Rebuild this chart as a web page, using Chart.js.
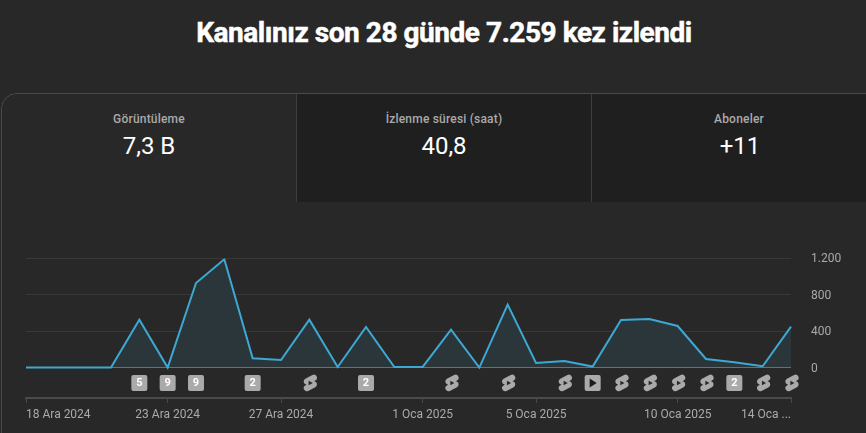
<!DOCTYPE html>
<html lang="tr">
<head>
<meta charset="utf-8">
<title>Kanal analizi</title>
<script src="https://cdn.jsdelivr.net/npm/chart.js@4"></script>
<style>
  html, body { margin: 0; padding: 0; width: 866px; height: 433px; overflow: hidden; background: #282828; font-family: Roboto, sans-serif; }
  h1 { position: absolute; left: 0; top: 14px; width: 888px; margin: 0; text-align: center; color: #fff; font-size: 28px; line-height: 38px; font-weight: 700; letter-spacing: -0.45px; -webkit-text-stroke: 0.5px #fff; }
  .panel { position: absolute; left: 1px; top: 93px; width: 880px; height: 400px; border: 1px solid #4a4a4a; border-top-left-radius: 16px; box-sizing: border-box; }
  .tab { position: absolute; top: 94px; height: 108px; text-align: center; background: #1f1f1f; box-sizing: border-box; }
  .tab.on { background: #282828; border-top-left-radius: 16px; }
  .tab .name { position: absolute; left: 0; right: 0; top: 17px; color: #aaa; font-size: 12px; line-height: 16px; font-weight: 500; letter-spacing: 0.2px; }
  .tab .val { position: absolute; left: 0; right: 0; top: 37px; color: #fff; font-size: 24px; line-height: 30px; }
  .sep { position: absolute; top: 94px; width: 1px; height: 108px; background: #3f3f3f; }
  #wrap { position: absolute; left: 0; top: 210px; width: 866px; height: 223px; }
</style>
</head>
<body>
<h1>Kanalınız son 28 günde 7.259 kez izlendi</h1>
<div class="panel"></div>
<div class="tab on" style="left:2px;width:294px"><div class="name">Görüntüleme</div><div class="val">7,3 B</div></div>
<div class="tab" style="left:297px;width:294px"><div class="name">İzlenme süresi (saat)</div><div class="val">40,8</div></div>
<div class="tab" style="left:592px;width:274px;"><div class="name" style="width:294px;right:auto">Aboneler</div><div class="val" style="width:296px;right:auto">+11</div></div>
<div class="sep" style="left:296px"></div>
<div class="sep" style="left:591px"></div>
<div id="wrap"><canvas id="views"></canvas></div>
<script>
const days = ['18 Ara 2024', '19 Ara 2024', '20 Ara 2024', '21 Ara 2024', '22 Ara 2024', '23 Ara 2024', '24 Ara 2024',
  '25 Ara 2024', '26 Ara 2024', '27 Ara 2024', '28 Ara 2024', '29 Ara 2024', '30 Ara 2024', '31 Ara 2024',
  '1 Oca 2025', '2 Oca 2025', '3 Oca 2025', '4 Oca 2025', '5 Oca 2025', '6 Oca 2025', '7 Oca 2025',
  '8 Oca 2025', '9 Oca 2025', '10 Oca 2025', '11 Oca 2025', '12 Oca 2025', '13 Oca 2025', '14 Oca ...']
const views = [0, 0, 0, 0, 527, 0, 930, 1190, 102, 84, 527, 7, 447, 7, 7, 417, 0, 692, 51, 73, 11, 523, 534, 457, 95, 60, 15, 450]
const xTickDays = [0, 5, 9, 14, 18, 23, 27]
const yTickValues = [0, 400, 800, 1200]
// upload markers under the line: 's' = shorts, 'p' = video, otherwise the number of uploads
const markerDays = [4, 5, 6, 8, 10, 12, 15, 17, 19, 20, 21, 22, 23, 24, 25, 26, 27]
const markerKinds = ['5', '9', '9', '2', 's', '2', 's', 's', 's', 'p', 's', 's', 's', 's', '2', 's', 's']

const shortsPath = new Path2D('M17.77,10.32l-1.2-.5L18,9.06a3.74,3.74,0,0,0-3.5-6.62L6,6.94a3.74,3.74,0,0,0,.23,6.74l1.2.49L6,14.93a3.75,3.75,0,0,0,3.5,6.63l8.5-4.5a3.74,3.74,0,0,0-.23-6.74Z')
const shortsPlay = new Path2D('M10,14.65v-5.3L15,12Z')

const markers = {
  id: 'markers',
  afterDraw(chart) {
    const ctx = chart.ctx
    const x = chart.scales.x
    const cy = 173
    markerDays.forEach((day, i) => {
      const px = x.getPixelForValue(day)
      const kind = markerKinds[i]
      ctx.save()
      if (kind === 's') {
        ctx.translate(px - 9, cy - 10)
        ctx.scale(0.83, 0.83)
        ctx.fillStyle = '#aaa'
        ctx.fill(shortsPath)
        ctx.fillStyle = '#282828'
        ctx.fill(shortsPlay)
      } else {
        ctx.fillStyle = '#aaa'
        ctx.beginPath()
        ctx.roundRect(px - 8, cy - 8, 16, 16, 2)
        ctx.fill()
        if (kind === 'p') {
          ctx.fillStyle = '#1a1a1a'
          ctx.beginPath()
          ctx.moveTo(px - 3, cy - 4.5)
          ctx.lineTo(px + 4, cy)
          ctx.lineTo(px - 3, cy + 4.5)
          ctx.fill()
        } else {
          ctx.fillStyle = '#fff'
          ctx.font = '700 11px Roboto'
          ctx.textAlign = 'center'
          ctx.textBaseline = 'middle'
          ctx.fillText(kind, px, cy + 0.5)
        }
      }
      ctx.restore()
    })
  }
}

new Chart(document.getElementById('views'), {
  type: 'line',
  data: {
    labels: days,
    datasets: [{
      data: views,
      borderColor: '#3ea8d4',
      borderWidth: 2,
      backgroundColor: '#2b363b',
      fill: { value: 0 },
      pointRadius: 0,
      tension: 0,
      borderJoinStyle: 'miter'
    }]
  },
  plugins: [markers],
  options: {
    responsive: true,
    maintainAspectRatio: false,
    animation: false,
    layout: { autoPadding: false, padding: { left: 26, top: 48.4, right: 0, bottom: 0 } },
    plugins: { legend: { display: false }, tooltip: { enabled: false } },
    scales: {
      x: {
        afterBuildTicks(scale) { scale.ticks = xTickDays.map(v => ({ value: v })) },
        afterFit(scale) { scale.height = 35 },
        grid: { drawOnChartArea: false, drawTicks: true, tickLength: 5, color: '#4a4a4a', lineWidth: 1 },
        border: { color: '#4a4a4a', width: 2 },
        ticks: { autoSkip: false, maxRotation: 0, align: 'inner', color: '#aaa', font: { family: 'Roboto', size: 12 }, padding: 5 }
      },
      y: {
        position: 'right',
        min: -334,
        max: 1200,
        afterBuildTicks(scale) { scale.ticks = yTickValues.map(v => ({ value: v })) },
        afterFit(scale) { scale.width = 75 },
        grid: {
          drawTicks: false,
          color: ctx => ctx.tick && ctx.tick.value === 0 ? '#aaa' : '#383838'
        },
        border: { display: false },
        ticks: {
          align: 'center',
          crossAlign: 'near',
          padding: 20,
          color: '#aaa',
          // empty first line with a 2px line height nudges the label 1px down onto its grid line
          font: { family: 'Roboto', size: 12, lineHeight: '2px' },
          callback: v => ['', v.toLocaleString('tr-TR')]
        }
      }
    }
  }
})
</script>
</body>
</html>
